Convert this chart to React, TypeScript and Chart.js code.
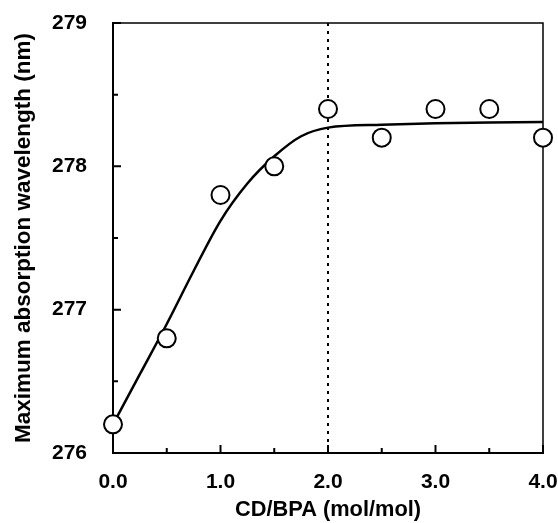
import React, { useEffect, useRef } from "react";
import { Chart, registerables } from "chart.js";

Chart.register(...registerables);

// Measured data (CD/BPA molar ratio vs. max absorption wavelength)
const ratioX = [0, 0.5, 1.0, 1.5, 2.0, 2.5, 3.0, 3.5, 4.0];
const wavelength = [276.2, 276.8, 277.8, 278.0, 278.4, 278.2, 278.4, 278.4, 278.2];

// Fitted curve
const fitX = [0, 0.25, 0.5, 0.75, 1.0, 1.25, 1.5, 1.75, 2.0, 2.5, 3.0, 3.5, 4.0];
const fitY = [276.2, 276.55, 276.9, 277.27, 277.62, 277.88, 278.07, 278.21, 278.27, 278.29, 278.3, 278.305, 278.31];

// Axis ticks
const xMajorTicks = [0, 1, 2, 3, 4];
const xMinorTicks = [0.5, 1.5, 2.5, 3.5];
const yMajorTicks = [276, 277, 278, 279];
const yMinorTicks = [276.5, 277.5, 278.5];
const breakRatio = 2.0;

const xTitle = "CD/BPA (mol/mol)";
const yTitle = "Maximum absorption wavelength (nm)";

const FONT = '"Liberation Sans", Arial, sans-serif';

const framePlugin = {
  id: "frameTicks",
  beforeDatasetsDraw(chart: any) {
    const { ctx, chartArea } = chart;
    const { left, right, top, bottom } = chartArea;
    const xs = chart.scales.x;
    const ys = chart.scales.y;
    ctx.save();
    ctx.strokeStyle = "#000";
    // top & right frame
    ctx.lineWidth = 1.5;
    ctx.beginPath();
    ctx.moveTo(left, top);
    ctx.lineTo(right, top);
    ctx.lineTo(right, bottom);
    ctx.stroke();
    // inward ticks
    ctx.lineWidth = 2;
    ctx.beginPath();
    yMajorTicks.forEach((v) => {
      const p = ys.getPixelForValue(v);
      ctx.moveTo(left, p);
      ctx.lineTo(left + 8, p);
    });
    yMinorTicks.forEach((v) => {
      const p = ys.getPixelForValue(v);
      ctx.moveTo(left, p);
      ctx.lineTo(left + 5, p);
    });
    xMajorTicks.forEach((v) => {
      const p = xs.getPixelForValue(v);
      ctx.moveTo(p, bottom);
      ctx.lineTo(p, bottom - 8);
    });
    xMinorTicks.forEach((v) => {
      const p = xs.getPixelForValue(v);
      ctx.moveTo(p, bottom);
      ctx.lineTo(p, bottom - 5);
    });
    ctx.stroke();
    // dotted vertical line
    const bx = xs.getPixelForValue(breakRatio);
    ctx.setLineDash([3, 5]);
    ctx.lineWidth = 2;
    ctx.beginPath();
    ctx.moveTo(bx, top);
    ctx.lineTo(bx, bottom);
    ctx.stroke();
    ctx.restore();
  },
};

const zeroPad = (s: any) => {
  s.paddingLeft = 0;
  s.paddingRight = 0;
  s.paddingTop = 0;
  s.paddingBottom = 0;
};

export default function App() {
  const canvasRef = useRef<HTMLCanvasElement | null>(null);

  useEffect(() => {
    const canvas = canvasRef.current;
    if (!canvas) return;
    const tickFont = { family: FONT, size: 21, weight: "bold" as const };
    const xTitleFont = { family: FONT, size: 21.8, weight: "bold" as const };
    const yTitleFont = { family: FONT, size: 22.5, weight: "bold" as const };
    const chart = new Chart(canvas, {
      type: "scatter",
      data: {
        datasets: [
          {
            label: "measured",
            data: ratioX.map((x, i) => ({ x, y: wavelength[i] })),
            pointRadius: 9,
            pointBorderWidth: 2,
            pointBackgroundColor: "#fff",
            pointBorderColor: "#000",
            showLine: false,
            clip: false as any,
          },
          {
            label: "fit",
            data: fitX.map((x, i) => ({ x, y: fitY[i] })),
            showLine: true,
            pointRadius: 0,
            borderColor: "#000",
            borderWidth: 2.5,
            cubicInterpolationMode: "monotone",
            clip: false as any,
          },
        ],
      },
      options: {
        responsive: false,
        animation: false,
        devicePixelRatio: 1,
        layout: { padding: { left: 0, top: 23, right: 15, bottom: 0 } },
        plugins: {
          legend: { display: false },
          tooltip: { enabled: false },
        },
        scales: {
          x: {
            type: "linear",
            min: 0,
            max: 4,
            afterFit: (s: any) => {
              s.height = 70;
              zeroPad(s);
            },
            afterBuildTicks: (s: any) => {
              s.ticks = xMajorTicks.map((v) => ({ value: v }));
            },
            ticks: {
              callback: (v: any) => Number(v).toFixed(1),
              font: tickFont,
              color: "#000",
              padding: 17,
              maxRotation: 0,
            },
            grid: { drawOnChartArea: false, drawTicks: false },
            border: { color: "#000", width: 2 },
            title: {
              display: true,
              text: xTitle,
              font: xTitleFont,
              color: "#000",
              padding: { top: 0, bottom: 0 },
            },
          },
          y: {
            type: "linear",
            min: 276,
            max: 279,
            afterFit: (s: any) => {
              s.width = 113;
              zeroPad(s);
            },
            afterBuildTicks: (s: any) => {
              s.ticks = yMajorTicks.map((v) => ({ value: v }));
            },
            ticks: {
              callback: (v: any) => String(v),
              font: tickFont,
              color: "#000",
              padding: 26,
            },
            grid: { drawOnChartArea: false, drawTicks: false },
            border: { color: "#000", width: 2 },
            title: {
              display: true,
              text: yTitle,
              font: yTitleFont,
              color: "#000",
              padding: { top: 10.5, bottom: 0 },
            },
          },
        },
      },
      plugins: [framePlugin],
    });
    return () => chart.destroy();
  }, []);

  return (
    <div style={{ position: "absolute", left: 0, top: 0, width: 558, height: 523, background: "#fff" }}>
      <canvas ref={canvasRef} width={558} height={523} style={{ width: 558, height: 523, display: "block" }} />
    </div>
  );
}
